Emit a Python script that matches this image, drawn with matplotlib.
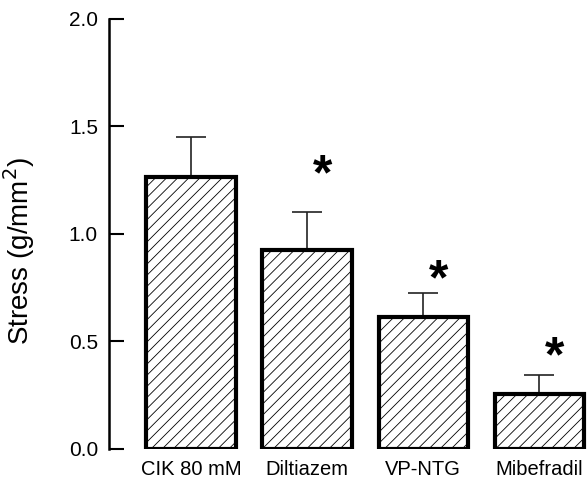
import numpy as np
import matplotlib.pyplot as plt

plt.rcParams['font.family'] = ['Liberation Sans', 'DejaVu Sans']
plt.rcParams['hatch.linewidth'] = 0.6
plt.rcParams['hatch.color'] = '#444444'

# Datos
groups = ['CIK 80 mM', 'Diltiazem', 'VP-NTG', 'Mibefradil']
stress = [1.265, 0.925, 0.614, 0.256]
sem = [0.185, 0.175, 0.111, 0.088]
signif = [False, True, True, True]
star_y = [0, 1.33, 0.84, 0.48]

x = np.arange(len(groups))

fig = plt.figure(figsize=(5.88, 4.82), dpi=100)
ax = fig.add_axes([0.1854, 0.0685, 0.8146, 0.8921])

ax.bar(x, stress, width=0.77, color='white', edgecolor='black',
       linewidth=3, hatch='///', zorder=2)
ax.errorbar(x, stress, yerr=[np.zeros(len(sem)), sem], fmt='none',
            ecolor='#222222', elinewidth=1.2, capsize=11, capthick=1.2, zorder=1)

# Asteriscos de significancia (el glifo queda alto, se baja un poco)
for xi, s, ys in zip(x, signif, star_y):
    if s:
        ax.text(xi + 0.13, ys - 0.06, '*', ha='center', va='center',
                fontsize=36, fontweight='bold')

ax.set_xlim(-0.707, 3.42)
ax.set_ylim(0, 2.0)
ax.set_yticks([0, 0.5, 1.0, 1.5, 2.0])
ax.set_yticklabels(['0.0', '0.5', '1.0', '1.5', '2.0'])
ax.set_xticks(x)
ax.set_xticklabels(groups)
ax.tick_params(axis='y', direction='in', length=11, width=1.5, labelsize=15, pad=8)
ax.tick_params(axis='x', length=0, labelsize=14.5, pad=8)
ax.set_ylabel('Stress (g/mm$^2$)', fontsize=20)
ax.yaxis.set_label_coords(-0.15, 0.46)

ax.spines['top'].set_visible(False)
ax.spines['right'].set_visible(False)
ax.spines['bottom'].set_visible(False)
ax.spines['left'].set_linewidth(1.8)

plt.savefig('out.png', dpi=100)
